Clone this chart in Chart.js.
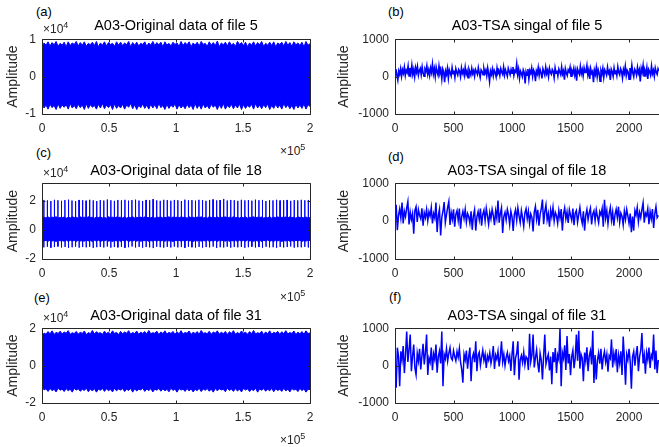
<!DOCTYPE html>
<html><head><meta charset="utf-8">
<script src="https://cdn.jsdelivr.net/npm/chart.js@4.4.1/dist/chart.umd.min.js"></script>
<style>
html,body{margin:0;padding:0;background:#fff;}
body{width:659px;height:447px;overflow:hidden;position:relative;font-family:"Liberation Sans",Arial,Helvetica,sans-serif;}
canvas{position:absolute;}
.tt{position:absolute;font-size:14.5px;line-height:14px;color:#000;text-align:center;white-space:nowrap;}
.lb{position:absolute;font-size:13px;line-height:13px;color:#000;white-space:nowrap;}
.ex{position:absolute;font-size:12px;line-height:12px;color:#262626;white-space:nowrap;}
.ex span{font-size:9px;position:relative;top:-5px;}
</style></head><body>
<canvas id="pa"></canvas><canvas id="pb"></canvas>
<canvas id="pc"></canvas><canvas id="pd"></canvas>
<canvas id="pe"></canvas><canvas id="pf"></canvas>

<div class="lb" style="left:36px;top:5px">(a)</div>
<div class="lb" style="left:388px;top:4.5px">(b)</div>
<div class="lb" style="left:36px;top:145.5px">(c)</div>
<div class="lb" style="left:388px;top:149.5px">(d)</div>
<div class="lb" style="left:34px;top:290.5px">(e)</div>
<div class="lb" style="left:389px;top:289.5px">(f)</div>

<div class="tt" style="left:42px;width:268px;top:18px">A03-Original data of file 5</div>
<div class="tt" style="left:395px;width:264px;top:18px">A03-TSA singal of file 5</div>
<div class="tt" style="left:42px;width:268px;top:163px">A03-Original data of file 18</div>
<div class="tt" style="left:395px;width:264px;top:163px">A03-TSA singal of file 18</div>
<div class="tt" style="left:42px;width:268px;top:308px">A03-Original data of file 31</div>
<div class="tt" style="left:395px;width:264px;top:308px">A03-TSA singal of file 31</div>

<div class="ex" style="left:43px;top:23px">×10<span>4</span></div>
<div class="ex" style="left:43px;top:167px">×10<span>4</span></div>
<div class="ex" style="left:43px;top:312px">×10<span>4</span></div>
<div class="ex" style="left:280px;top:145px">×10<span>5</span></div>
<div class="ex" style="left:280px;top:291px">×10<span>5</span></div>
<div class="ex" style="left:280px;top:434px">×10<span>5</span></div>

<script>
// ---------------- tick values ----------------
const xTicksOrig = [0, 0.5, 1, 1.5, 2];          // ×10^5 samples
const xTicksTsa  = [0, 500, 1000, 1500, 2000];
const yTicksA    = [-1, 0, 1];                   // ×10^4
const yTicksC    = [-2, 0, 2];
const yTicksE    = [-2, 0, 2];
const yTicksTsa  = [-1000, 0, 1000];

// ---------------- (a) original data file 5 : band envelope (×10^4) ----------------
const origA_hi = [0.78,0.90,0.84,0.93,0.82,0.91,0.85,0.94,0.81,0.89,0.84,0.92,0.80,0.93,0.83,0.90,0.86,0.94,0.82,0.91,
0.84,0.93,0.81,0.89,0.85,0.92,0.83,0.94,0.80,0.90,0.84,0.93,0.82,0.91,0.86,0.89,0.81,0.93,0.84,0.92,
0.83,0.90,0.85,0.94,0.80,0.91,0.84,0.92,0.82,0.89,0.86,0.93,0.81,0.90,0.84,0.94,0.83,0.91,0.85,0.92,
0.80,0.93,0.84,0.89,0.82,0.92,0.86,0.90,0.81,0.94,0.83,0.91,0.85,0.93,0.80,0.90,0.84,0.92,0.82,0.94,
0.86,0.89,0.81,0.93,0.84,0.91,0.83,0.95,0.80,0.90,0.85,0.92,0.82,0.93,0.84,0.89,0.81,0.94,0.86,0.91,
0.83,0.92,0.80,0.90,0.84,0.93,0.82,0.91,0.85,0.94,0.81,0.89,0.84,0.92,0.83,0.93,0.80,0.90,0.86,0.92,
0.82,0.94,0.84,0.91,0.81,0.93,0.85,0.90,0.83,0.92,0.80,0.94,0.84,0.88];
const origA_lo = [-0.70,-0.84,-0.76,-0.87,-0.74,-0.83,-0.77,-0.88,-0.73,-0.85,-0.76,-0.82,-0.75,-0.87,-0.72,-0.84,-0.77,-0.86,-0.74,-0.83,
-0.76,-0.88,-0.73,-0.85,-0.75,-0.82,-0.77,-0.87,-0.74,-0.84,-0.72,-0.86,-0.76,-0.83,-0.75,-0.88,-0.73,-0.85,-0.77,-0.84,
-0.74,-0.87,-0.76,-0.82,-0.72,-0.86,-0.75,-0.88,-0.77,-0.83,-0.73,-0.85,-0.76,-0.87,-0.74,-0.84,-0.75,-0.86,-0.72,-0.83,
-0.77,-0.88,-0.74,-0.85,-0.76,-0.82,-0.73,-0.87,-0.75,-0.84,-0.77,-0.86,-0.74,-0.83,-0.76,-0.88,-0.72,-0.85,-0.75,-0.87,
-0.73,-0.84,-0.77,-0.86,-0.74,-0.82,-0.76,-0.88,-0.75,-0.85,-0.72,-0.87,-0.77,-0.83,-0.74,-0.86,-0.76,-0.84,-0.73,-0.88,
-0.75,-0.85,-0.77,-0.82,-0.74,-0.87,-0.72,-0.84,-0.76,-0.86,-0.75,-0.83,-0.73,-0.88,-0.77,-0.85,-0.74,-0.84,-0.76,-0.87,
-0.72,-0.83,-0.75,-0.86,-0.77,-0.88,-0.74,-0.84,-0.76,-0.85,-0.73,-0.87,-0.75,-0.80];

// ---------------- (c) original data file 18 : band + periodic impulses (×10^4) ----------------
const origC_hi = [0.78,0.86,0.82,0.89,0.80,0.87,0.84,0.90,0.81,0.85,0.83,0.88,0.79,0.87,0.82,0.90,0.84,0.86,0.80,0.89,
0.83,0.87,0.81,0.90,0.85,0.86,0.80,0.88,0.84,0.89,0.82,0.85,0.80,0.90,0.83,0.87,0.81,0.88,0.85,0.86,
0.82,0.89,0.80,0.87,0.84,0.90,0.81,0.86,0.83,0.88,0.79,0.89,0.84,0.85,0.82,0.90,0.80,0.87,0.85,0.88,
0.81,0.86,0.83,0.90,0.80,0.88,0.84,0.87,0.82,0.89,0.85,0.86,0.80,0.90,0.83,0.87,0.81,0.88,0.84,0.89,
0.82,0.85,0.80,0.90,0.84,0.87,0.83,0.88,0.81,0.86,0.85,0.89,0.80,0.87,0.82,0.90,0.84,0.86,0.81,0.88,
0.83,0.89,0.80,0.86,0.85,0.90,0.82,0.87,0.84,0.88,0.81,0.85,0.83,0.90,0.80,0.87,0.84,0.89,0.82,0.86,
0.85,0.88,0.81,0.90,0.83,0.87,0.80,0.89,0.84,0.86,0.82,0.88,0.81,0.84];
const origC_lo = [-0.68,-0.76,-0.72,-0.79,-0.70,-0.77,-0.73,-0.80,-0.71,-0.75,-0.74,-0.78,-0.70,-0.79,-0.72,-0.76,-0.73,-0.80,-0.71,-0.77,
-0.74,-0.78,-0.70,-0.76,-0.73,-0.80,-0.72,-0.77,-0.71,-0.79,-0.74,-0.75,-0.70,-0.78,-0.73,-0.80,-0.72,-0.76,-0.71,-0.79,
-0.73,-0.77,-0.70,-0.80,-0.74,-0.76,-0.72,-0.78,-0.71,-0.79,-0.73,-0.75,-0.70,-0.80,-0.74,-0.77,-0.72,-0.78,-0.71,-0.76,
-0.73,-0.79,-0.70,-0.77,-0.74,-0.80,-0.72,-0.75,-0.71,-0.78,-0.73,-0.79,-0.70,-0.76,-0.74,-0.80,-0.72,-0.77,-0.71,-0.78,
-0.73,-0.76,-0.70,-0.79,-0.74,-0.77,-0.72,-0.80,-0.71,-0.75,-0.73,-0.78,-0.70,-0.79,-0.74,-0.76,-0.72,-0.80,-0.71,-0.77,
-0.73,-0.78,-0.70,-0.76,-0.74,-0.79,-0.72,-0.77,-0.71,-0.80,-0.73,-0.75,-0.70,-0.78,-0.74,-0.79,-0.72,-0.76,-0.71,-0.80,
-0.73,-0.77,-0.70,-0.79,-0.74,-0.78,-0.72,-0.76,-0.71,-0.80,-0.73,-0.78,-0.70,-0.74];
const impulseC_up = [2.05,2.02,1.98,2.06,2.03,1.99,2.04,2.07,2.01,1.97,2.05,2.03,2.00,2.06,2.02,1.98,2.04,2.01,2.08,2.03,
1.99,2.05,2.02,2.06,2.00,2.04,2.07,2.01,1.98,2.05,2.03,2.10,2.02,1.99,2.06,2.04,2.00,2.05,2.03,1.98,
2.07,2.02,2.04,2.00,2.06,2.03,1.99,2.05,2.08,2.02,2.04,2.12,2.01,2.05,2.03,1.99,2.06,2.02,2.04,2.00,
2.07,2.03,2.05,1.98,2.04,2.02,2.06,2.01,2.03,2.05,1.99,2.04,2.02,2.06,2.03,2.05];
const impulseC_dn = [-1.20,-1.16,-1.22,-1.18,-1.14,-1.21,-1.17,-1.23,-1.19,-1.15,-1.22,-1.18,-1.20,-1.16,-1.24,-1.19,-1.17,-1.21,-1.15,-1.22,
-1.18,-1.20,-1.16,-1.23,-1.19,-1.14,-1.21,-1.17,-1.22,-1.18,-1.20,-1.25,-1.16,-1.19,-1.22,-1.17,-1.21,-1.15,-1.20,-1.18,
-1.23,-1.16,-1.19,-1.21,-1.17,-1.22,-1.18,-1.20,-1.15,-1.24,-1.19,-1.21,-1.16,-1.22,-1.18,-1.20,-1.17,-1.23,-1.19,-1.15,
-1.21,-1.18,-1.22,-1.16,-1.20,-1.19,-1.23,-1.17,-1.21,-1.18,-1.14,-1.22,-1.19,-1.20,-1.17,-1.21];

// ---------------- (e) original data file 31 : band envelope (×10^4) ----------------
const origE_hi = [1.55,1.74,1.68,1.82,1.70,1.86,1.66,1.78,1.72,1.84,1.69,1.80,1.73,1.87,1.67,1.76,1.71,1.83,1.68,1.79,
1.72,1.85,1.66,1.77,1.70,1.88,1.69,1.81,1.73,1.76,1.67,1.84,1.71,1.79,1.68,1.86,1.72,1.78,1.66,1.83,
1.70,1.80,1.73,1.87,1.68,1.77,1.71,1.85,1.67,1.79,1.72,1.82,1.69,1.88,1.70,1.76,1.73,1.84,1.66,1.80,
1.71,1.86,1.68,1.78,1.72,1.83,1.67,1.81,1.70,1.87,1.69,1.77,1.73,1.85,1.66,1.79,1.71,1.82,1.68,1.88,
1.72,1.76,1.70,1.84,1.67,1.80,1.73,1.86,1.69,1.78,1.71,1.83,1.66,1.81,1.72,1.87,1.68,1.77,1.70,1.85,
1.73,1.79,1.67,1.82,1.71,1.88,1.69,1.76,1.72,1.84,1.66,1.80,1.70,1.86,1.68,1.78,1.73,1.83,1.67,1.81,
1.71,1.87,1.69,1.77,1.72,1.85,1.66,1.79,1.70,1.82,1.68,1.86,1.71,1.75];
const origE_lo = [-1.12,-1.30,-1.24,-1.38,-1.22,-1.34,-1.27,-1.41,-1.21,-1.32,-1.25,-1.39,-1.23,-1.35,-1.26,-1.42,-1.22,-1.31,-1.24,-1.37,
-1.27,-1.33,-1.21,-1.40,-1.25,-1.36,-1.23,-1.42,-1.26,-1.32,-1.22,-1.38,-1.24,-1.34,-1.27,-1.41,-1.21,-1.35,-1.25,-1.31,
-1.23,-1.39,-1.26,-1.33,-1.22,-1.42,-1.24,-1.36,-1.27,-1.30,-1.21,-1.38,-1.25,-1.34,-1.23,-1.41,-1.26,-1.32,-1.22,-1.37,
-1.24,-1.35,-1.27,-1.40,-1.21,-1.33,-1.25,-1.42,-1.23,-1.31,-1.26,-1.38,-1.22,-1.36,-1.24,-1.41,-1.27,-1.34,-1.21,-1.39,
-1.25,-1.32,-1.23,-1.37,-1.26,-1.42,-1.22,-1.35,-1.24,-1.30,-1.27,-1.40,-1.21,-1.33,-1.25,-1.38,-1.23,-1.36,-1.26,-1.41,
-1.22,-1.31,-1.24,-1.39,-1.27,-1.34,-1.21,-1.42,-1.25,-1.32,-1.23,-1.37,-1.26,-1.35,-1.22,-1.40,-1.24,-1.33,-1.27,-1.38,
-1.21,-1.36,-1.25,-1.41,-1.23,-1.31,-1.26,-1.39,-1.22,-1.34,-1.24,-1.42,-1.27,-1.28];

// ---------------- (b) TSA signal file 5 (every 8th sample) ----------------
const tsaB = [120,200,40,-90,150,60,210,10,180,90,250,30,170,110,280,20,230,80,300,60,
190,0,240,120,270,40,160,220,50,260,100,10,200,140,290,60,180,30,230,110,
330,70,210,0,250,130,40,280,90,170,-60,200,120,-150,150,60,220,-40,180,100,
20,240,80,160,-20,210,110,40,190,140,0,230,90,170,30,250,60,150,-30,200,
120,40,220,80,160,10,190,130,60,240,100,-20,180,140,50,210,90,170,20,230,
80,-130,150,60,200,20,170,110,0,230,90,150,30,210,120,60,250,40,180,100,
10,220,140,50,190,90,260,30,160,120,340,60,200,-40,150,90,0,180,110,-180,
130,40,200,-60,160,90,230,10,180,120,-120,150,70,240,30,190,100,-50,210,130,
40,250,80,170,0,220,110,60,190,140,-30,230,90,160,20,200,120,50,260,70,
150,-80,210,100,30,180,130,250,10,160,90,220,40,170,-110,200,120,60,270,80,
190,20,230,110,150,300,50,180,-60,210,90,140,-150,170,60,240,0,190,100,-120,
160,70,220,-20,180,120,40,250,90,150,-90,200,130,10,230,80,170,30,260,110,
50,210,140,-40,190,90,280,30,170,120,-70,230,60,300,100,0,200,150,40,250,
90,180,-130,220,110,300,20,160,70,240,-60,190,130,40,280,80,170,10,230,120,
60,210,150];

// ---------------- (d) TSA signal file 18 (every 10th sample) ----------------
const tsaD = [50,430,-240,150,320,80,490,-60,260,120,350,520,-90,240,40,200,-330,280,380,-20,
300,150,60,340,-120,220,90,310,10,250,130,360,-60,200,80,490,-290,150,310,-380,
100,260,500,-40,170,360,520,-100,230,50,310,-150,180,280,20,330,-200,120,260,70,
310,-30,200,120,-60,260,-230,140,300,-250,110,250,40,330,-120,180,290,10,340,140,
-80,230,60,310,150,-110,270,80,540,-40,200,350,-310,120,230,30,310,170,-90,260,
110,-260,180,300,20,350,140,-40,280,90,-140,220,330,60,260,-60,190,100,-270,240,
390,50,300,-120,170,330,570,-80,250,430,30,200,-150,290,110,360,0,230,140,-60,
280,80,320,-250,190,350,60,240,-50,300,150,20,330,-110,210,280,-30,170,360,90,
-60,260,-250,150,310,40,220,340,-90,180,270,10,300,120,-40,250,160,330,-150,560,
80,280,-70,200,360,20,240,-120,170,310,90,380,-30,210,130,-100,260,50,310,140,
-60,200,-290,120,-250,280,160,360,-20,230,90,300,480,-40,210,140,330,-80,250,60,
320,-180,190,380,90,150];

// ---------------- (f) TSA signal file 31 (every 10th sample) ----------------
const tsaF = [200,-590,480,250,-550,380,150,520,-200,300,910,100,420,830,-150,250,560,-60,-245,330,
120,450,-100,260,580,30,350,830,-250,200,90,480,-120,310,160,560,-190,240,390,60,
910,-550,300,180,450,120,330,480,200,150,400,250,130,380,220,460,100,-100,-460,300,
150,400,-80,250,480,-420,200,320,90,650,-150,280,360,10,220,410,140,300,-60,260,
150,340,60,230,520,-90,280,170,380,-20,240,650,100,300,0,220,350,120,260,-140,
300,650,-260,200,330,650,-380,150,270,80,360,20,240,190,-120,850,100,280,830,-50,
210,420,60,-180,330,150,-370,260,830,40,190,300,-130,240,-500,360,90,470,-200,280,
160,1000,-550,350,200,540,-120,790,60,310,-260,240,410,-70,200,830,130,930,-80,300,
200,-420,350,120,490,-150,260,400,30,930,-465,280,-370,150,340,50,450,-100,220,380,
100,300,-160,260,190,700,-50,330,120,440,-180,280,60,380,-250,780,200,-510,300,150,
450,100,-620,240,380,0,300,520,-150,240,410,870,60,280,-220,350,160,480,-60,290,
200,830,-100,400,-200,150];

const ORIG_XMAX = 2;      // ×10^5 samples
const TSA_XMAX = 2256;
const BLUE = '#0000ff';
const AXIS = '#262626';
const FONT = '"Liberation Sans", Arial, Helvetica, sans-serif';

// sample positions come from the sample index
const evenly = (vals, xmax) => vals.map((v, i) => ({x: i * xmax / (vals.length - 1), y: v}));
const stepped = (vals, step) => vals.map((v, i) => ({x: i * step, y: v}));
function impulses(up, dn, xmax) {
  const n = up.length, w = xmax / n, e = xmax * 0.0004, pts = [];
  up.forEach((u, i) => {
    const c = (i + 0.5) * w;
    pts.push({x: c - e, y: 0}, {x: c, y: u}, {x: c + e, y: dn[i]}, {x: c + 2 * e, y: 0});
  });
  return pts;
}

const boxPlugin = {
  id: 'matlabBox',
  afterDatasetsDraw(chart, args, opts) {
    const {ctx, chartArea: ca, scales: {x, y}} = chart;
    const L = Math.round(ca.left) + 0.5, R = Math.round(ca.right) + 0.5;
    const T = Math.round(ca.top) + 0.5, B = Math.round(ca.bottom) + 0.5;
    ctx.save();
    ctx.strokeStyle = AXIS; ctx.lineWidth = 1;
    ctx.beginPath();
    ctx.moveTo(L, T); ctx.lineTo(opts.right ? R : ca.right + 5, T);
    ctx.moveTo(L, B); ctx.lineTo(opts.right ? R : ca.right + 5, B);
    ctx.moveTo(L, T); ctx.lineTo(L, B);
    if (opts.right) { ctx.moveTo(R, T); ctx.lineTo(R, B); }
    const tl = 3;
    x.ticks.forEach(t => {
      const p = Math.round(x.getPixelForValue(t.value)) + 0.5;
      ctx.moveTo(p, B); ctx.lineTo(p, B - tl);
      ctx.moveTo(p, T); ctx.lineTo(p, T + tl);
    });
    y.ticks.forEach(t => {
      const p = Math.round(y.getPixelForValue(t.value)) + 0.5;
      ctx.moveTo(L, p); ctx.lineTo(L + tl, p);
      if (opts.right) { ctx.moveTo(R, p); ctx.lineTo(R - tl, p); }
    });
    ctx.stroke();
    ctx.restore();
  }
};

function panel(id, o) {
  const cv = document.getElementById(id);
  cv.width = o.w; cv.height = o.h;
  cv.style.left = o.left + 'px'; cv.style.top = o.top + 'px';
  cv.style.width = o.w + 'px'; cv.style.height = o.h + 'px';
  const tickFont = {size: 12, family: FONT};
  return new Chart(cv, {
    type: 'line',
    data: {datasets: o.datasets},
    options: {
      responsive: false, animation: false, devicePixelRatio: 1, events: [],
      layout: {padding: {left: 0, right: o.padRight, top: 10, bottom: 0}},
      plugins: {legend: {display: false}, tooltip: {enabled: false}, title: {display: false},
                matlabBox: {right: o.boxRight}},
      elements: {point: {radius: 0}, line: {tension: 0}},
      scales: {
        x: {type: 'linear', min: o.xmin, max: o.xmax,
            grid: {display: false, drawTicks: false}, border: {display: false},
            afterBuildTicks: s => { s.ticks = o.xticks.map(v => ({value: v})); },
            afterFit: s => { s.height = 30; },
            ticks: {autoSkip: false, maxRotation: 0, minRotation: 0, padding: 7.5, color: AXIS,
                    font: tickFont, callback: v => String(v)}},
        y: {type: 'linear', min: o.ymin, max: o.ymax,
            grid: {display: false, drawTicks: false}, border: {display: false},
            afterBuildTicks: s => { s.ticks = o.yticks.map(v => ({value: v})); },
            afterFit: s => { s.width = o.yw; },
            ticks: {autoSkip: false, padding: 6, color: AXIS, font: tickFont, callback: v => String(v)},
            title: {display: true, text: 'Amplitude', color: AXIS,
                    font: {size: 14, family: FONT}, padding: {top: o.ytp, bottom: 0}}}
      }
    },
    plugins: [boxPlugin]
  });
}

const band = (hi, lo, xmax) => [
  {data: evenly(hi, xmax), borderColor: BLUE, backgroundColor: BLUE, borderWidth: 1, fill: '+1', pointRadius: 0},
  {data: evenly(lo, xmax), borderColor: BLUE, backgroundColor: BLUE, borderWidth: 1, fill: false, pointRadius: 0}
];
const trace = (vals, step, lw) => [
  {data: stepped(vals, step), borderColor: BLUE, borderWidth: lw, fill: false, pointRadius: 0}
];

const LEFT = {left: 0, w: 330, padRight: 20, yw: 42, ytp: 4.9, boxRight: true,
              xmin: 0, xmax: ORIG_XMAX, xticks: xTicksOrig};
const RIGHT = {left: 330, w: 329, padRight: 0, yw: 65, ytp: 5.4, boxRight: false,
               xmin: 0, xmax: TSA_XMAX, xticks: xTicksTsa};

panel('pa', {...LEFT, top: 26, h: 118, ymin: -1, ymax: 1, yticks: yTicksA,
  datasets: band(origA_hi, origA_lo, ORIG_XMAX)});
panel('pc', {...LEFT, top: 170, h: 119, ymin: -2, ymax: 3.2, yticks: yTicksC,
  datasets: band(origC_hi, origC_lo, ORIG_XMAX).concat([
    {data: impulses(impulseC_up, impulseC_dn, ORIG_XMAX), borderColor: BLUE, borderWidth: 1, fill: false, pointRadius: 0}])});
panel('pe', {...LEFT, top: 315, h: 118, ymin: -2, ymax: 2, yticks: yTicksE,
  datasets: band(origE_hi, origE_lo, ORIG_XMAX)});

panel('pb', {...RIGHT, top: 26, h: 118, ymin: -1000, ymax: 1000, yticks: yTicksTsa,
  datasets: trace(tsaB, 8, 1.6)});
panel('pd', {...RIGHT, top: 170, h: 119, ymin: -1000, ymax: 1000, yticks: yTicksTsa,
  datasets: trace(tsaD, 10, 1.5)});
panel('pf', {...RIGHT, top: 315, h: 118, ymin: -1000, ymax: 1000, yticks: yTicksTsa,
  datasets: trace(tsaF, 10, 1.5)});
</script>
</body></html>
